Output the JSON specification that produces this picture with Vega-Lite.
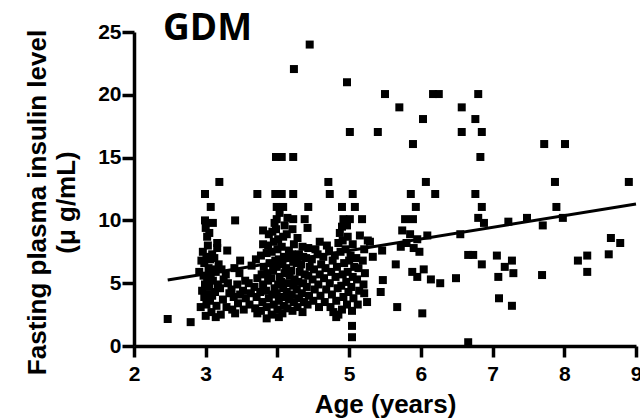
{
  "$schema": "https://vega.github.io/schema/vega-lite/v6.json",
  "width": 502,
  "height": 314,
  "autosize": {"type": "none"},
  "padding": {"left": 134, "top": 32, "right": 4, "bottom": 74},
  "background": "white",
  "title": {
    "text": "GDM",
    "anchor": "start",
    "frame": "group",
    "dx": 29,
    "offset": -27,
    "font": "Open Sans",
    "fontSize": 37,
    "fontWeight": "bold",
    "color": "black"
  },
  "config": {
    "view": {"stroke": null},
    "axis": {
      "grid": false,
      "domainColor": "black",
      "domainWidth": 3.5,
      "tickColor": "black",
      "tickWidth": 3.5,
      "labelFont": "Liberation Sans",
      "labelFontSize": 21,
      "labelFontWeight": "bold",
      "labelColor": "black",
      "labelFlush": false,
      "labelOverlap": false,
      "titleFont": "Liberation Sans",
      "titleFontWeight": "bold",
      "titleColor": "black"
    }
  },
  "encoding": {
    "x": {
      "field": "age",
      "type": "quantitative",
      "scale": {"domain": [2, 9], "nice": false},
      "axis": {
        "values": [2, 3, 4, 5, 6, 7, 8, 9],
        "format": "d",
        "domainColor": "black",
        "domainWidth": 3.5,
        "tickColor": "black",
        "tickWidth": 3.5,
        "tickSize": 11,
        "labelFont": "Liberation Sans",
        "labelFontSize": 21,
        "labelFontWeight": "bold",
        "labelColor": "black",
        "labelPadding": 6,
        "title": "Age (years)",
        "titleFontSize": 26,
        "titlePadding": 7
      }
    },
    "y": {
      "field": "insulin",
      "type": "quantitative",
      "scale": {"domain": [0, 25], "nice": false},
      "axis": {
        "values": [0, 5, 10, 15, 20, 25],
        "format": "d",
        "domainColor": "black",
        "domainWidth": 3.5,
        "tickColor": "black",
        "tickWidth": 3.5,
        "tickSize": 12,
        "labelFont": "Liberation Sans",
        "labelFontSize": 21,
        "labelFontWeight": "bold",
        "labelColor": "black",
        "labelPadding": 1,
        "title": ["Fasting plasma insulin level", "(μ g/mL)"],
        "titleFontSize": 26,
        "titleLineHeight": 29,
        "titlePadding": 18,
        "titleY": 170
      }
    }
  },
  "layer": [
    {
      "data": {
        "values": [
          {"age": 4.45, "insulin": 24.0}, {"age": 4.23, "insulin": 22.05}, {"age": 3.98, "insulin": 15.05}, {"age": 4.06, "insulin": 15.05},
          {"age": 4.22, "insulin": 15.05}, {"age": 3.19, "insulin": 13.06}, {"age": 2.99, "insulin": 12.1}, {"age": 3.72, "insulin": 12.1},
          {"age": 3.97, "insulin": 12.1}, {"age": 4.06, "insulin": 12.1}, {"age": 4.22, "insulin": 12.1}, {"age": 3.07, "insulin": 11.07},
          {"age": 4.97, "insulin": 21.0}, {"age": 5.5, "insulin": 20.06}, {"age": 5.7, "insulin": 19.0}, {"age": 6.17, "insulin": 20.06},
          {"age": 6.25, "insulin": 20.06}, {"age": 6.8, "insulin": 20.06}, {"age": 6.57, "insulin": 19.0}, {"age": 6.03, "insulin": 18.07},
          {"age": 6.76, "insulin": 18.07}, {"age": 5.01, "insulin": 17.04}, {"age": 5.4, "insulin": 17.04}, {"age": 6.57, "insulin": 17.04},
          {"age": 6.85, "insulin": 17.04}, {"age": 5.89, "insulin": 16.08}, {"age": 6.83, "insulin": 15.05}, {"age": 7.72, "insulin": 16.08},
          {"age": 8.01, "insulin": 16.08}, {"age": 4.71, "insulin": 13.06}, {"age": 6.07, "insulin": 13.06}, {"age": 7.87, "insulin": 13.06},
          {"age": 8.9, "insulin": 13.06}, {"age": 4.73, "insulin": 12.1}, {"age": 5.05, "insulin": 12.1}, {"age": 5.86, "insulin": 12.1},
          {"age": 6.2, "insulin": 12.1}, {"age": 6.76, "insulin": 12.1}, {"age": 4.9, "insulin": 11.07}, {"age": 5.08, "insulin": 11.07},
          {"age": 5.93, "insulin": 11.07}, {"age": 6.85, "insulin": 11.07}, {"age": 7.89, "insulin": 11.07}, {"age": 6.8, "insulin": 10.2},
          {"age": 6.88, "insulin": 9.8}, {"age": 7.22, "insulin": 9.9}, {"age": 7.48, "insulin": 10.2}, {"age": 7.7, "insulin": 9.6},
          {"age": 7.98, "insulin": 10.2}, {"age": 6.09, "insulin": 8.8}, {"age": 6.55, "insulin": 8.9}, {"age": 6.66, "insulin": 7.25},
          {"age": 6.73, "insulin": 7.25}, {"age": 6.85, "insulin": 6.5}, {"age": 7.06, "insulin": 7.2}, {"age": 7.27, "insulin": 6.8},
          {"age": 7.17, "insulin": 6.3}, {"age": 7.29, "insulin": 5.8}, {"age": 7.08, "insulin": 5.5}, {"age": 7.69, "insulin": 5.65},
          {"age": 8.19, "insulin": 6.8}, {"age": 8.32, "insulin": 7.2}, {"age": 8.32, "insulin": 5.9}, {"age": 8.62, "insulin": 7.3},
          {"age": 8.65, "insulin": 8.6}, {"age": 8.78, "insulin": 8.2}, {"age": 7.09, "insulin": 3.8}, {"age": 7.27, "insulin": 3.2},
          {"age": 6.66, "insulin": 0.3}, {"age": 6.04, "insulin": 6.1}, {"age": 6.14, "insulin": 5.3}, {"age": 6.27, "insulin": 5.0},
          {"age": 6.49, "insulin": 5.4}, {"age": 6.02, "insulin": 2.6}, {"age": 5.65, "insulin": 6.5}, {"age": 5.47, "insulin": 5.25},
          {"age": 5.44, "insulin": 4.3}, {"age": 5.88, "insulin": 5.9}, {"age": 5.95, "insulin": 5.5}, {"age": 5.67, "insulin": 3.1},
          {"age": 5.04, "insulin": 1.6}, {"age": 5.04, "insulin": 0.7}, {"age": 5.33, "insulin": 7.1}, {"age": 5.25, "insulin": 3.5},
          {"age": 4.85, "insulin": 2.5}, {"age": 5.18, "insulin": 10.1}, {"age": 4.92, "insulin": 10.1}, {"age": 5.01, "insulin": 10.1},
          {"age": 5.78, "insulin": 10.1}, {"age": 5.89, "insulin": 10.1}, {"age": 4.9, "insulin": 9.5}, {"age": 5.74, "insulin": 9.2},
          {"age": 5.26, "insulin": 8.4}, {"age": 3.99, "insulin": 11.07}, {"age": 4.08, "insulin": 11.07}, {"age": 4.43, "insulin": 11.07},
          {"age": 4.22, "insulin": 10.1}, {"age": 4.38, "insulin": 10.1}, {"age": 3.99, "insulin": 10.1}, {"age": 4.59, "insulin": 8.3},
          {"age": 4.87, "insulin": 9.0}, {"age": 3.41, "insulin": 10.0}, {"age": 2.99, "insulin": 10.0}, {"age": 3.1, "insulin": 9.8},
          {"age": 3.02, "insulin": 8.7}, {"age": 3.0, "insulin": 9.4}, {"age": 3.8, "insulin": 9.2}, {"age": 2.47, "insulin": 2.15},
          {"age": 2.79, "insulin": 1.9}, {"age": 3.0, "insulin": 2.4}, {"age": 3.14, "insulin": 2.3}, {"age": 3.41, "insulin": 2.6},
          {"age": 3.72, "insulin": 2.6}, {"age": 3.85, "insulin": 2.2}, {"age": 4.02, "insulin": 2.3}, {"age": 3.48, "insulin": 6.8},
          {"age": 3.3, "insulin": 7.6}, {"age": 3.16, "insulin": 8.2}, {"age": 4.78, "insulin": 2.7}, {"age": 4.82, "insulin": 2.3},
          {"age": 5.46, "insulin": 7.6}, {"age": 5.29, "insulin": 8.3}, {"age": 5.85, "insulin": 8.9}, {"age": 5.95, "insulin": 8.5},
          {"age": 5.8, "insulin": 8.2}, {"age": 5.9, "insulin": 7.8}, {"age": 5.98, "insulin": 7.5}, {"age": 5.72, "insulin": 7.9},
          {"age": 5.21, "insulin": 4.2},

          {"age": 2.93, "insulin": 3.1}, {"age": 2.95, "insulin": 4.4}, {"age": 2.91, "insulin": 5.9}, {"age": 2.94, "insulin": 6.8},
          {"age": 3.01, "insulin": 3.3}, {"age": 2.98, "insulin": 3.9}, {"age": 3.03, "insulin": 4.1}, {"age": 2.99, "insulin": 4.9},
          {"age": 3.02, "insulin": 5.4}, {"age": 2.97, "insulin": 5.6}, {"age": 3.04, "insulin": 6.2}, {"age": 2.98, "insulin": 6.6},
          {"age": 3.01, "insulin": 7.1}, {"age": 2.96, "insulin": 7.5}, {"age": 3.03, "insulin": 8.0},
          {"age": 3.08, "insulin": 2.7}, {"age": 3.06, "insulin": 3.6}, {"age": 3.09, "insulin": 4.0}, {"age": 3.05, "insulin": 4.7},
          {"age": 3.1, "insulin": 5.2}, {"age": 3.07, "insulin": 5.7}, {"age": 3.11, "insulin": 6.1}, {"age": 3.06, "insulin": 6.9},
          {"age": 3.09, "insulin": 7.3}, {"age": 3.05, "insulin": 9.0},
          {"age": 3.15, "insulin": 3.2}, {"age": 3.13, "insulin": 4.3}, {"age": 3.17, "insulin": 4.9}, {"age": 3.14, "insulin": 5.9},
          {"age": 3.18, "insulin": 6.5}, {"age": 3.12, "insulin": 7.0}, {"age": 3.16, "insulin": 7.8},
          {"age": 3.21, "insulin": 2.5}, {"age": 3.24, "insulin": 3.7}, {"age": 3.2, "insulin": 4.6}, {"age": 3.25, "insulin": 5.3},
          {"age": 3.22, "insulin": 6.1},
          {"age": 3.29, "insulin": 3.1}, {"age": 3.33, "insulin": 4.2}, {"age": 3.31, "insulin": 5.0}, {"age": 3.28, "insulin": 5.7},
          {"age": 3.37, "insulin": 2.9}, {"age": 3.39, "insulin": 3.9}, {"age": 3.36, "insulin": 4.5}, {"age": 3.4, "insulin": 6.2},
          {"age": 3.45, "insulin": 3.4}, {"age": 3.48, "insulin": 4.1}, {"age": 3.44, "insulin": 4.9}, {"age": 3.47, "insulin": 5.8},
          {"age": 3.53, "insulin": 2.9}, {"age": 3.56, "insulin": 3.8}, {"age": 3.52, "insulin": 4.4}, {"age": 3.55, "insulin": 5.2},
          {"age": 3.61, "insulin": 3.3}, {"age": 3.63, "insulin": 4.2}, {"age": 3.6, "insulin": 5.0}, {"age": 3.64, "insulin": 6.4},
          {"age": 3.69, "insulin": 3.0}, {"age": 3.71, "insulin": 3.9}, {"age": 3.68, "insulin": 4.7}, {"age": 3.72, "insulin": 5.4},
          {"age": 3.7, "insulin": 6.9},
          {"age": 3.77, "insulin": 2.8}, {"age": 3.79, "insulin": 3.5}, {"age": 3.76, "insulin": 4.3}, {"age": 3.8, "insulin": 4.9},
          {"age": 3.78, "insulin": 5.7}, {"age": 3.81, "insulin": 6.3}, {"age": 3.77, "insulin": 7.2}, {"age": 3.8, "insulin": 8.1},
          {"age": 3.85, "insulin": 3.1}, {"age": 3.88, "insulin": 3.8}, {"age": 3.84, "insulin": 4.4}, {"age": 3.87, "insulin": 5.2},
          {"age": 3.86, "insulin": 5.8}, {"age": 3.89, "insulin": 6.6}, {"age": 3.85, "insulin": 7.4}, {"age": 3.87, "insulin": 8.0},
          {"age": 3.88, "insulin": 8.9},
          {"age": 3.92, "insulin": 2.5}, {"age": 3.95, "insulin": 3.3}, {"age": 3.93, "insulin": 4.1}, {"age": 3.96, "insulin": 4.6},
          {"age": 3.91, "insulin": 5.4}, {"age": 3.94, "insulin": 6.0}, {"age": 3.97, "insulin": 6.8}, {"age": 3.92, "insulin": 7.5},
          {"age": 3.95, "insulin": 8.3}, {"age": 3.93, "insulin": 9.1}, {"age": 3.96, "insulin": 9.8},
          {"age": 4.0, "insulin": 2.9}, {"age": 4.02, "insulin": 3.6}, {"age": 3.99, "insulin": 4.2}, {"age": 4.01, "insulin": 4.9},
          {"age": 4.03, "insulin": 5.5}, {"age": 3.99, "insulin": 6.3}, {"age": 4.02, "insulin": 6.9}, {"age": 4.0, "insulin": 7.7},
          {"age": 4.01, "insulin": 8.5}, {"age": 3.98, "insulin": 9.3}, {"age": 4.03, "insulin": 10.6},
          {"age": 4.07, "insulin": 2.6}, {"age": 4.09, "insulin": 3.2}, {"age": 4.06, "insulin": 3.9}, {"age": 4.08, "insulin": 4.6},
          {"age": 4.05, "insulin": 5.1}, {"age": 4.1, "insulin": 5.8}, {"age": 4.07, "insulin": 6.5}, {"age": 4.09, "insulin": 7.1},
          {"age": 4.06, "insulin": 7.9}, {"age": 4.08, "insulin": 8.7}, {"age": 4.1, "insulin": 9.6},
          {"age": 4.14, "insulin": 3.0}, {"age": 4.16, "insulin": 3.7}, {"age": 4.13, "insulin": 4.3}, {"age": 4.15, "insulin": 5.0},
          {"age": 4.17, "insulin": 5.6}, {"age": 4.12, "insulin": 6.2}, {"age": 4.15, "insulin": 7.0}, {"age": 4.16, "insulin": 7.6},
          {"age": 4.13, "insulin": 8.9}, {"age": 4.14, "insulin": 10.2},
          {"age": 4.21, "insulin": 2.8}, {"age": 4.23, "insulin": 3.5}, {"age": 4.2, "insulin": 4.1}, {"age": 4.22, "insulin": 4.8},
          {"age": 4.24, "insulin": 5.3}, {"age": 4.19, "insulin": 6.0}, {"age": 4.22, "insulin": 6.7}, {"age": 4.2, "insulin": 7.3},
          {"age": 4.23, "insulin": 8.1}, {"age": 4.21, "insulin": 9.3},
          {"age": 4.28, "insulin": 3.1}, {"age": 4.3, "insulin": 3.8}, {"age": 4.27, "insulin": 4.5}, {"age": 4.29, "insulin": 5.1},
          {"age": 4.31, "insulin": 5.9}, {"age": 4.27, "insulin": 6.6}, {"age": 4.3, "insulin": 7.3}, {"age": 4.28, "insulin": 8.6},
          {"age": 4.35, "insulin": 2.7}, {"age": 4.37, "insulin": 3.5}, {"age": 4.34, "insulin": 4.2}, {"age": 4.36, "insulin": 5.0},
          {"age": 4.38, "insulin": 5.7}, {"age": 4.33, "insulin": 6.5}, {"age": 4.36, "insulin": 7.1}, {"age": 4.35, "insulin": 7.9},
          {"age": 4.42, "insulin": 3.3}, {"age": 4.44, "insulin": 4.0}, {"age": 4.41, "insulin": 4.7}, {"age": 4.43, "insulin": 5.6},
          {"age": 4.45, "insulin": 6.3}, {"age": 4.4, "insulin": 7.0}, {"age": 4.43, "insulin": 7.8}, {"age": 4.42, "insulin": 9.4},
          {"age": 4.5, "insulin": 3.6}, {"age": 4.52, "insulin": 4.5}, {"age": 4.49, "insulin": 5.3}, {"age": 4.51, "insulin": 6.1},
          {"age": 4.48, "insulin": 6.9}, {"age": 4.53, "insulin": 7.7},
          {"age": 4.58, "insulin": 3.1}, {"age": 4.6, "insulin": 4.0}, {"age": 4.57, "insulin": 4.9}, {"age": 4.59, "insulin": 5.7},
          {"age": 4.61, "insulin": 6.5}, {"age": 4.56, "insulin": 7.3},
          {"age": 4.66, "insulin": 3.5}, {"age": 4.68, "insulin": 4.5}, {"age": 4.65, "insulin": 5.4}, {"age": 4.67, "insulin": 6.2},
          {"age": 4.64, "insulin": 7.1}, {"age": 4.69, "insulin": 8.0},
          {"age": 4.74, "insulin": 3.1}, {"age": 4.76, "insulin": 4.1}, {"age": 4.73, "insulin": 5.0}, {"age": 4.75, "insulin": 5.9},
          {"age": 4.77, "insulin": 6.8}, {"age": 4.72, "insulin": 7.6},
          {"age": 4.82, "insulin": 3.6}, {"age": 4.84, "insulin": 4.6}, {"age": 4.81, "insulin": 5.5}, {"age": 4.83, "insulin": 6.3},
          {"age": 4.8, "insulin": 7.2}, {"age": 4.85, "insulin": 8.2},
          {"age": 4.9, "insulin": 2.9}, {"age": 4.92, "insulin": 3.9}, {"age": 4.89, "insulin": 4.8}, {"age": 4.91, "insulin": 5.7},
          {"age": 4.93, "insulin": 6.6}, {"age": 4.88, "insulin": 7.5}, {"age": 4.91, "insulin": 8.4},
          {"age": 4.97, "insulin": 3.3}, {"age": 4.99, "insulin": 4.3}, {"age": 4.96, "insulin": 5.1}, {"age": 4.98, "insulin": 5.9},
          {"age": 5.0, "insulin": 6.8}, {"age": 4.95, "insulin": 7.7}, {"age": 4.98, "insulin": 8.7}, {"age": 4.97, "insulin": 9.6},
          {"age": 5.04, "insulin": 2.8}, {"age": 5.06, "insulin": 3.8}, {"age": 5.03, "insulin": 4.7}, {"age": 5.05, "insulin": 5.5},
          {"age": 5.07, "insulin": 6.3}, {"age": 5.02, "insulin": 7.2}, {"age": 5.05, "insulin": 8.1},
          {"age": 5.12, "insulin": 3.3}, {"age": 5.14, "insulin": 4.4}, {"age": 5.11, "insulin": 5.3}, {"age": 5.13, "insulin": 6.2},
          {"age": 5.1, "insulin": 7.0}, {"age": 5.15, "insulin": 8.8},
          {"age": 5.2, "insulin": 4.9}, {"age": 5.22, "insulin": 5.8}, {"age": 5.19, "insulin": 6.8}, {"age": 5.21, "insulin": 7.7}
        ]
      },
      "mark": {"type": "square", "size": 64, "color": "black", "opacity": 1}
    },
    {
      "data": {
        "values": [
          {"age": 2.47, "insulin": 5.25},
          {"age": 9.0, "insulin": 11.3}
        ]
      },
      "mark": {"type": "line", "color": "black", "strokeWidth": 3}
    }
  ]
}
